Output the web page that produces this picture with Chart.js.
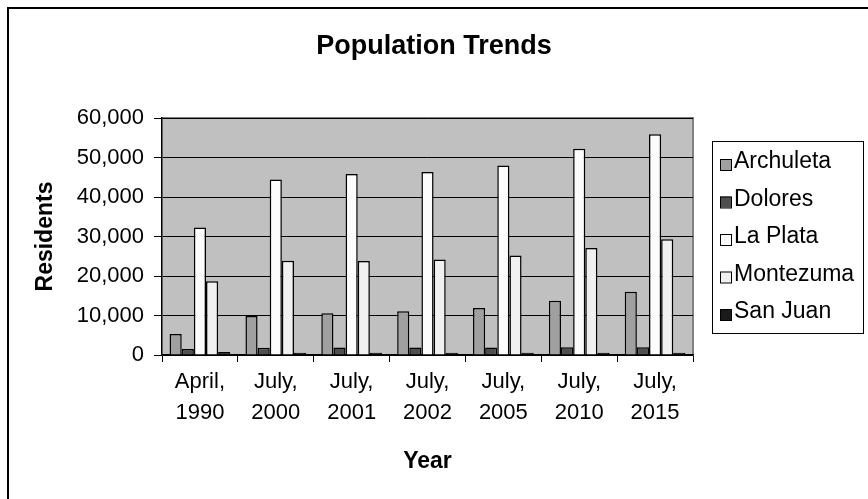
<!DOCTYPE html>
<html>
<head>
<meta charset="utf-8">
<script src="https://cdn.jsdelivr.net/npm/chart.js@4/dist/chart.umd.min.js"></script>
<style>
  html, body { margin: 0; padding: 0; background: #fff; }
  #wrap { width: 868px; height: 499px; position: relative; }
</style>
</head>
<body>
<div id="wrap"><canvas id="c" width="868" height="499"></canvas></div>
<script>
// Population estimates by county
const periods = [
  ["April,", "1990"], ["July,", "2000"], ["July,", "2001"], ["July,", "2002"],
  ["July,", "2005"], ["July,", "2010"], ["July,", "2015"]
];
const counties = ["Archuleta", "Dolores", "La Plata", "Montezuma", "San Juan"];
const archuleta = [5345, 9898, 10550, 11050, 11900, 13750, 16000];
const dolores   = [1504, 1844, 1900, 1900, 1920, 1940, 1960];
const laPlata   = [32284, 44400, 45800, 46300, 48000, 52200, 55900];
const montezuma = [18672, 23830, 23800, 24200, 25200, 27100, 29300];
const sanJuan   = [745, 558, 560, 560, 560, 560, 560];
const yTicks = [0, 10000, 20000, 30000, 40000, 50000, 60000];

const seriesValues = [archuleta, dolores, laPlata, montezuma, sanJuan];
const fills = ["#a0a0a0", "#4f4f4f", "#fcfcfc", "#f0f0f0", "#1a1a1a"];

const FONT = "Arial, 'Liberation Sans', sans-serif";
const TITLE = "Population Trends";

// White page, outer frame, gray plot background and its top/right edge
const plotFrame = {
  id: "plotFrame",
  beforeDraw(chart) {
    const { ctx, chartArea: a } = chart;
    ctx.save();
    ctx.fillStyle = "#ffffff";
    ctx.fillRect(0, 0, chart.width, chart.height);
    ctx.strokeStyle = "#000";
    ctx.lineWidth = 2;
    ctx.beginPath();
    ctx.moveTo(8, chart.height + 5);
    ctx.lineTo(8, 8);
    ctx.lineTo(chart.width + 5, 8);
    ctx.stroke();
    ctx.fillStyle = "#c0c0c0";
    ctx.fillRect(a.left, a.top, a.right - a.left, a.bottom - a.top);
    ctx.strokeStyle = "#808080";
    ctx.lineWidth = 2;
    ctx.beginPath();
    ctx.moveTo(a.left, a.top);
    ctx.lineTo(a.right, a.top);
    ctx.lineTo(a.right, a.bottom);
    ctx.stroke();
    // chart title, centred on the whole page
    ctx.fillStyle = "#000";
    ctx.font = "bold 27px " + FONT;
    ctx.textAlign = "center";
    ctx.textBaseline = "middle";
    ctx.fillText(TITLE, chart.width / 2, 47);
    ctx.restore();
  }
};

// Boxed legend on the right side
const boxLegend = {
  id: "boxLegend",
  afterDraw(chart) {
    const { ctx } = chart;
    const x0 = 712, y0 = 141, w = 151, h = 192;
    ctx.save();
    ctx.fillStyle = "#fff";
    ctx.fillRect(x0, y0, w, h);
    ctx.strokeStyle = "#000";
    ctx.lineWidth = 1;
    ctx.strokeRect(x0 + 0.5, y0 + 0.5, w, h);
    ctx.font = "23px " + FONT;
    ctx.textBaseline = "middle";
    chart.data.datasets.forEach((ds, i) => {
      const cy = y0 + 20 + i * 37.5;
      ctx.fillStyle = ds.backgroundColor;
      ctx.fillRect(x0 + 8, cy - 2, 11, 11);
      ctx.strokeStyle = "#000";
      ctx.strokeRect(x0 + 8.5, cy - 1.5, 11, 11);
      ctx.fillStyle = "#000";
      ctx.fillText(ds.label, x0 + 22, cy + 1);
    });
    ctx.restore();
  }
};

new Chart(document.getElementById("c"), {
  type: "bar",
  data: {
    labels: periods,
    datasets: counties.map((name, i) => ({
      label: name,
      data: seriesValues[i],
      backgroundColor: fills[i],
      borderColor: "#000",
      borderWidth: 1.5,
      borderSkipped: "bottom",
      categoryPercentage: 0.8,
      barPercentage: 1.0
    }))
  },
  options: {
    responsive: false,
    animation: false,
    devicePixelRatio: 1,
    layout: { padding: { left: 32, right: 175, top: 118, bottom: 24 } },
    plugins: {
      legend: { display: false },
      tooltip: { enabled: false },
      title: { display: false }
    },
    scales: {
      x: {
        grid: { display: true, drawOnChartArea: false, drawTicks: true, tickLength: 7, color: "#000", offset: true },
        border: { color: "#000", width: 1.5 },
        ticks: { color: "#000", font: { family: FONT, size: 22, lineHeight: 1.4 }, padding: 5, maxRotation: 0, autoSkip: false },
        title: { display: true, text: "Year", color: "#000", font: { family: FONT, size: 23, weight: "bold" }, padding: 0 },
        afterFit(s) { s.height = 120; }
      },
      y: {
        min: 0,
        max: 60000,
        afterBuildTicks(s) { s.ticks = yTicks.map(v => ({ value: v })); },
        grid: { color: "#000", lineWidth: 1, tickLength: 8 },
        border: { color: "#000", width: 1.5 },
        ticks: {
          color: "#000",
          font: { family: FONT, size: 22 },
          padding: 10,
          callback: v => Number(v).toLocaleString("en-US")
        },
        title: { display: true, text: "Residents", color: "#000", font: { family: FONT, size: 23, weight: "bold" }, padding: 0 },
        afterFit(s) { s.width = 130; }
      }
    }
  },
  plugins: [plotFrame, boxLegend]
});
</script>
</body>
</html>
